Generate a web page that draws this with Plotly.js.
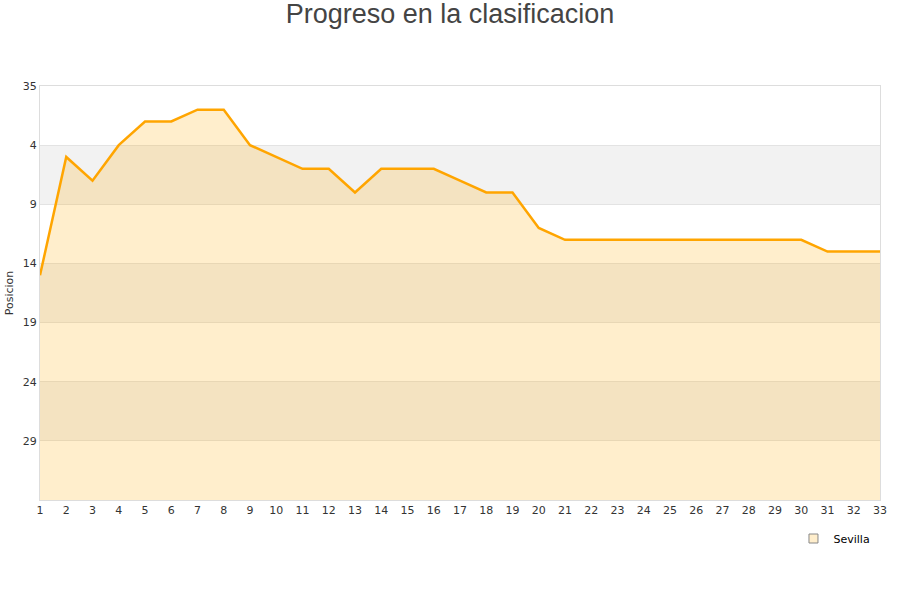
<!DOCTYPE html>
<html>
<head>
<meta charset="utf-8">
<script src="https://cdn.plot.ly/plotly-3.0.1.min.js"></script>
<style>
  html, body { margin: 0; padding: 0; background: #ffffff; }
  #chart { width: 900px; height: 600px; }
</style>
</head>
<body>
<div id="chart"></div>
<script>
const jornadas = [1, 2, 3, 4, 5, 6, 7, 8, 9, 10, 11, 12, 13, 14, 15, 16, 17,
  18, 19, 20, 21, 22, 23, 24, 25, 26, 27, 28, 29, 30, 31, 32, 33];
const posiciones = [15, 5, 7, 4, 2, 2, 1, 1, 4, 5, 6, 6, 8, 6, 6, 6, 7,
  8, 8, 11, 12, 12, 12, 12, 12, 12, 12, 12, 12, 12, 13, 13, 13];
const tickValues = [-1, 4, 9, 14, 19, 24, 29];
const tickLabels = ["35", "4", "9", "14", "19", "24", "29"];
const bandStarts = [4, 14, 24];
const yBottom = 34;
const yTop = -1;

const baseline = jornadas.map(() => yBottom);

const traces = [
  {
    x: jornadas,
    y: baseline,
    mode: "lines",
    type: "scatter",
    line: { width: 0, color: "rgba(0,0,0,0)" },
    showlegend: false,
    hoverinfo: "skip",
  },
  {
    x: jornadas,
    y: posiciones,
    mode: "lines",
    type: "scatter",
    name: "Sevilla",
    fill: "tonexty",
    fillcolor: "rgba(255,170,0,0.2)",
    line: { color: "#ffa500", width: 2.5 },
    showlegend: false,
  },
  // legend entry only: a square swatch like the original
  {
    x: [null],
    y: [null],
    mode: "markers",
    type: "scatter",
    name: "Sevilla",
    marker: { symbol: "square", size: 9, color: "#ffeecc", line: { color: "#888888", width: 1 } },
  },
];

const bands = bandStarts.map((start) => ({
  type: "rect",
  xref: "paper",
  yref: "y",
  x0: 0,
  x1: 1,
  y0: start,
  y1: start + 5,
  fillcolor: "#f2f2f2",
  line: { width: 0 },
  layer: "below",
}));

const layout = {
  width: 900,
  height: 600,
  margin: { l: 40, r: 20, t: 86, b: 100 },
  paper_bgcolor: "#ffffff",
  plot_bgcolor: "#ffffff",
  font: { family: "DejaVu Sans, sans-serif", size: 11, color: "#333333" },
  title: {
    text: "Progreso en la clasificacion",
    x: 0.5,
    xanchor: "center",
    y: 0.993,
    yanchor: "top",
    font: { family: "Liberation Sans, Arial, sans-serif", size: 27, color: "#444444" },
  },
  xaxis: {
    range: [1, 33],
    tickmode: "array",
    tickvals: jornadas,
    ticks: "",
    showgrid: false,
    zeroline: false,
    showline: true,
    linecolor: "#dddddd",
    mirror: true,
    tickfont: { size: 11, color: "#333333" },
  },
  yaxis: {
    range: [yBottom, yTop],
    tickmode: "array",
    tickvals: tickValues,
    ticktext: tickLabels,
    ticks: "",
    showgrid: true,
    gridcolor: "#e3e3e3",
    zeroline: false,
    showline: true,
    linecolor: "#dddddd",
    mirror: true,
    tickfont: { size: 11, color: "#333333" },
    title: { text: "Posicion", font: { size: 11, color: "#333333" }, standoff: 6 },
  },
  shapes: bands,
  showlegend: true,
  legend: {
    x: 0.897,
    y: -0.058,
    xanchor: "left",
    yanchor: "top",
    bgcolor: "rgba(0,0,0,0)",
    font: { size: 11, color: "#000000" },
  },
};

Plotly.newPlot("chart", traces, layout, { displayModeBar: false, staticPlot: true });
</script>
</body>
</html>
